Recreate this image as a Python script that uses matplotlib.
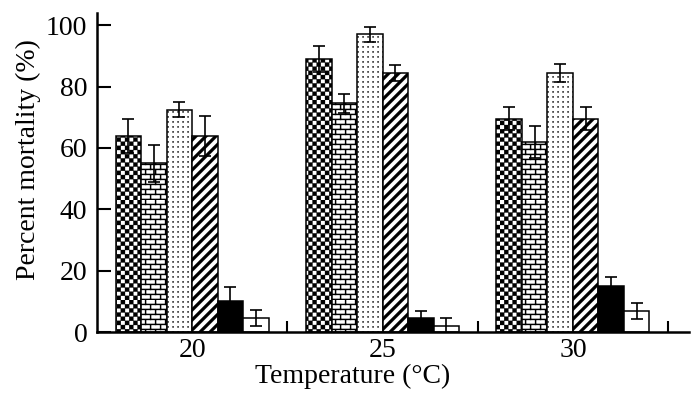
import numpy as np
import matplotlib
matplotlib.use("Agg")
import matplotlib.pyplot as plt
import matplotlib.hatch as mhatch
from matplotlib.path import Path

# ---------------- data ----------------
temperatures = ["20", "25", "30"]
treat_checker = [64.0, 89.0, 69.5]
treat_brick = [55.0, 74.5, 62.0]
treat_dots = [72.5, 97.0, 84.5]
treat_diag = [64.0, 84.5, 69.5]
treat_black = [10.0, 4.6, 15.0]
treat_white = [4.5, 2.0, 6.8]

err_checker = [5.5, 4.3, 3.8]
err_brick = [6.0, 3.0, 5.2]
err_dots = [2.5, 2.4, 3.0]
err_diag = [6.5, 2.7, 3.8]
err_black = [4.6, 2.3, 2.8]
err_white = [2.6, 2.6, 2.5]

y_ticks = [0, 20, 40, 60, 80, 100]


# ---------------- custom hatch patterns ----------------
def _rect(x0, y0, w, h):
    return [(x0, y0), (x0 + w, y0), (x0 + w, y0 + h), (x0, y0 + h), (x0, y0)]


class _ShapeHatch(mhatch.HatchPatternBase):
    char = None

    def __init__(self, hatch, density):
        self.polys = self.make_polys() if self.char in hatch else []
        self.num_vertices = 5 * len(self.polys)

    def make_polys(self):
        return []

    def set_vertices_and_codes(self, vertices, codes):
        k = 0
        for poly in self.polys:
            vertices[k:k + 5] = poly
            codes[k] = Path.MOVETO
            codes[k + 1:k + 4] = Path.LINETO
            codes[k + 4] = Path.CLOSEPOLY
            k += 5


class CheckerHatch(_ShapeHatch):
    char = "O"

    def make_polys(self):
        n = 24
        s = 1.0 / n
        return [_rect(i * s, j * s, s, s) for i in range(n) for j in range(n)
                if (i + j) % 2 == 0]


class BrickHatch(_ShapeHatch):
    char = "o"

    def make_polys(self):
        rows, cols = 20, 10
        t = 0.011
        rh, cw = 1.0 / rows, 1.0 / cols
        polys = []
        for r in range(rows):
            polys.append(_rect(0, r * rh, 1.0, t))
            off = 0.0 if r % 2 == 0 else cw / 2
            for c in range(cols + 1):
                xx = c * cw + off
                if xx <= 1.0:
                    polys.append(_rect(xx, r * rh, t, rh))
        return polys


class DotHatch(_ShapeHatch):
    char = "*"

    def make_polys(self):
        n = 20
        s = 1.0 / n
        d = 0.012
        return [_rect(i * s + s / 2, j * s + s / 2, d, d)
                for i in range(n) for j in range(n)]


class DiagHatch(_ShapeHatch):
    char = "/"

    def make_polys(self):
        n = 10
        w = 0.042
        polys = []
        for k in range(-n, n + 1):
            o = k / n
            polys.append([(o, 0), (o + w, 0), (o + w + 1, 1), (o + 1, 1), (o, 0)])
        return polys


mhatch._hatch_types[:] = [CheckerHatch, BrickHatch, DotHatch, DiagHatch]

# ---------------- plot ----------------
plt.rcParams["font.family"] = ["Liberation Serif", "DejaVu Serif"]
plt.rcParams["font.size"] = 20
plt.rcParams["hatch.linewidth"] = 0.2
plt.rcParams["hatch.color"] = "black"

fig = plt.figure(figsize=(7.0, 4.08), dpi=100)
ax = fig.add_axes([97 / 700, 76 / 408, 592 / 700, 319 / 408])

series = [
    (treat_checker, err_checker, "white", "O"),
    (treat_brick, err_brick, "white", "o"),
    (treat_dots, err_dots, "white", "*"),
    (treat_diag, err_diag, "white", "/"),
    (treat_black, err_black, "black", ""),
    (treat_white, err_white, "white", ""),
]

x = np.arange(len(temperatures))
width = 0.134
nser = len(series)
for i, (vals, errs, fc, hatch) in enumerate(series):
    pos = x + (i - (nser - 1) / 2) * width
    ax.bar(pos, vals, width=width, color=fc, edgecolor="black",
           linewidth=1.1, hatch=hatch, zorder=2)
    ax.errorbar(pos, vals, yerr=errs, fmt="none", ecolor="black",
                elinewidth=1.2, capsize=4.5, capthick=1.2, zorder=3)

ax.set_xlim(-0.5, 2.61)
ax.set_ylim(0, 104)
ax.set_yticks(y_ticks)
ax.set_xticks(x)
ax.set_xticklabels(temperatures)
ax.set_xticks(x + 0.5, minor=True)

for s in ["top", "right"]:
    ax.spines[s].set_visible(False)
for s in ["left", "bottom"]:
    ax.spines[s].set_linewidth(1.8)

ax.tick_params(axis="y", direction="in", length=10, width=1.5, pad=7)
ax.tick_params(axis="x", which="major", direction="in", length=8, width=1.5, pad=4)
ax.tick_params(axis="x", which="minor", direction="in", length=8, width=1.5)

ax.set_xlabel("Temperature (°C)")
ax.set_ylabel("Percent mortality (%)")
ax.xaxis.set_label_coords(0.431, -0.10)
ax.yaxis.set_label_coords(-0.095, 0.54)

fig.savefig("out.png", dpi=100)
